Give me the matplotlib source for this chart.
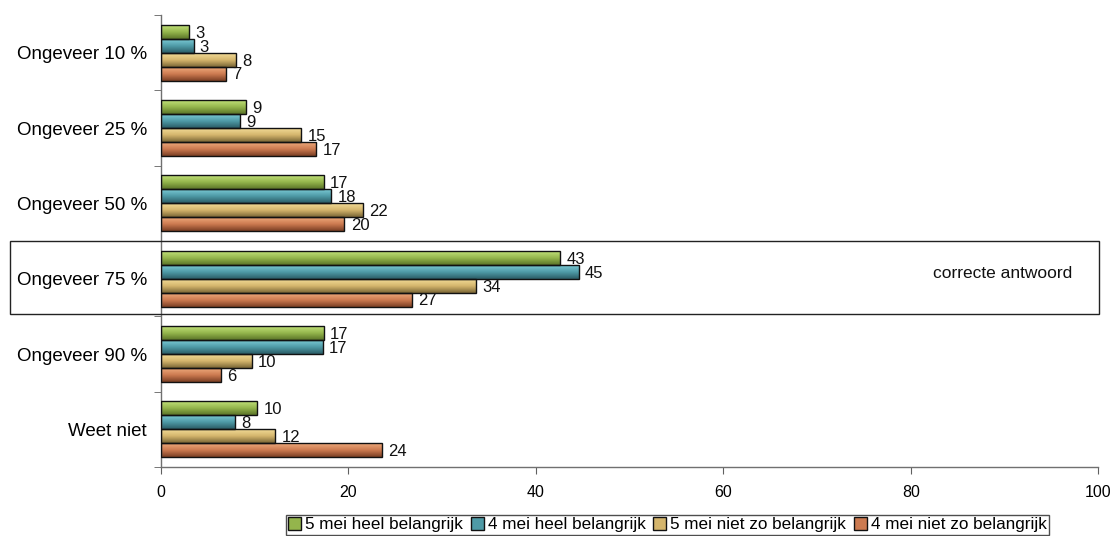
import matplotlib
matplotlib.use("Agg")
import matplotlib.pyplot as plt
import numpy as np
from matplotlib.patches import Patch, Rectangle
from matplotlib.colors import LinearSegmentedColormap

plt.rcParams['font.family'] = ['Liberation Sans', 'DejaVu Sans']

categories = ["Ongeveer 10 %", "Ongeveer 25 %", "Ongeveer 50 %", "Ongeveer 75 %", "Ongeveer 90 %", "Weet niet"]
series_names = ["5 mei heel belangrijk", "4 mei heel belangrijk", "5 mei niet zo belangrijk", "4 mei niet zo belangrijk"]
s5_heel = [3.0, 9.1, 17.4, 42.6, 17.4, 10.3]
s4_heel = [3.5, 8.5, 18.2, 44.6, 17.3, 7.9]
s5_niet = [8.0, 15.0, 21.6, 33.6, 9.7, 12.2]
s4_niet = [7.0, 16.6, 19.6, 26.8, 6.4, 23.6]
labels_5_heel = [3, 9, 17, 43, 17, 10]
labels_4_heel = [3, 9, 18, 45, 17, 8]
labels_5_niet = [8, 15, 22, 34, 10, 12]
labels_4_niet = [7, 17, 20, 27, 6, 24]
xticks = [0, 20, 40, 60, 80, 100]
highlight_text = "correcte antwoord"

series = [s5_heel, s4_heel, s5_niet, s4_niet]
series_labels = [labels_5_heel, labels_4_heel, labels_5_niet, labels_4_niet]
# (top, mid, bottom) gradient colours
grads = [
    ("#c2e27a", "#94b54c", "#5b7428"),
    ("#7ccbd6", "#4e9aa6", "#2b5c66"),
    ("#f3dc98", "#d4b56c", "#7a6636"),
    ("#eeaa7c", "#cc7a50", "#7a3f24"),
]

W, H = 1112, 536
fig = plt.figure(figsize=(W / 100, H / 100), dpi=100)
ax = fig.add_axes([160.7 / W, 1 - 467 / H, (1098.3 - 160.7) / W, (467 - 15) / H])

n = len(categories)
y = np.arange(n)
bh = 0.185
offsets = [-1.5, -0.5, 0.5, 1.5]

for k, (vals, labs, g) in enumerate(zip(series, series_labels, grads)):
    cmap = LinearSegmentedColormap.from_list(f"g{k}", [g[0], g[1], g[2]])
    grad = np.linspace(0, 1, 64).reshape(-1, 1)
    pos = y + offsets[k] * bh
    bars = ax.barh(pos, vals, height=bh, color=g[1], edgecolor="none", zorder=2)
    for b in bars:
        x0, yc = b.get_x(), b.get_y() + b.get_height() / 2
        w = b.get_width()
        im = ax.imshow(grad, cmap=cmap, aspect="auto", origin="upper",
                       extent=(x0, x0 + w, yc + bh / 2, yc - bh / 2), zorder=2.5,
                       interpolation="bilinear")
        im.set_clip_path(b)
    ax.barh(pos, vals, height=bh, fill=False, edgecolor="#111111", linewidth=1.0, zorder=3)
    for p, v, l in zip(pos, vals, labs):
        ax.annotate(str(l), (v, p), xytext=(4.5, -1), textcoords="offset points",
                    va="center", ha="left", fontsize=12, color="#111111", zorder=4)

ax.set_xlim(0, 100)
ax.set_ylim(n - 0.5, -0.5)
ax.set_xticks(xticks)
ax.set_xticklabels([str(t) for t in xticks], fontsize=11.5)
ax.set_yticks(y)
ax.set_yticklabels(categories, fontsize=13.5)
ax.set_yticks(np.arange(-0.5, n, 1.0), minor=True)
ax.tick_params(axis="y", which="major", length=0, pad=10)
ax.tick_params(axis="y", which="minor", length=5, direction="out", color="#606060")
ax.tick_params(axis="x", length=5, direction="out", color="#606060", pad=8)
for s in ["top", "right"]:
    ax.spines[s].set_visible(False)
for s in ["left", "bottom"]:
    ax.spines[s].set_color("#707070")
    ax.spines[s].set_linewidth(1.0)

# highlight box around correct answer
box = Rectangle((10 / W, 1 - 314.3 / H), (1099 - 10) / W, (314.3 - 240.7) / H,
                transform=fig.transFigure, fill=False, edgecolor="#222222",
                linewidth=1.0, zorder=5)
fig.patches.append(box)
fig.text(1003 / W, 1 - 274 / H, highlight_text, ha="center", va="center", fontsize=12.5, color="#111111")

handles = [Patch(facecolor=g[1], edgecolor="#111111", linewidth=1.0) for g in grads]
leg = fig.legend(handles, series_names, loc="lower center", bbox_to_anchor=(667.5 / W, 1.5 / H),
                 ncol=4, fontsize=12.3, frameon=True, fancybox=False, borderpad=0.12,
                 handlelength=0.75, handleheight=0.75, handletextpad=0.25, columnspacing=0.45,
                 borderaxespad=0)
leg.get_frame().set_edgecolor("#222222")
leg.get_frame().set_linewidth(1.0)

fig.savefig("out.png", dpi=100)
